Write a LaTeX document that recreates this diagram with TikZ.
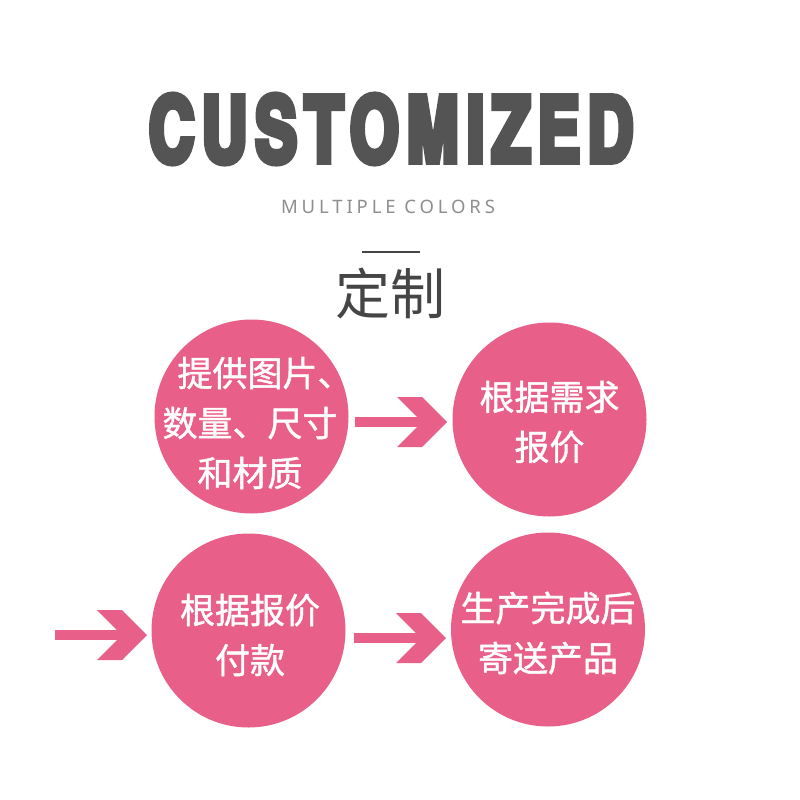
\documentclass[tikz,border=0pt]{standalone}
\usepackage{fontspec}
\newfontfamily\cjk[FakeBold=1.2]{Noto Sans CJK SC}
\newfontfamily\cjkhead{Noto Sans CJK SC}
\newfontfamily\titlefont[FakeBold=7,LetterSpace=10]{texgyreheroscn-bold.otf}
\newfontfamily\subfont[LetterSpace=21]{Noto Sans}
\definecolor{pinkc}{HTML}{E8608A}
\definecolor{titlegray}{HTML}{545454}
\definecolor{subgray}{HTML}{8E8E8E}
\definecolor{headgray}{HTML}{454545}
\tikzset{
  circ/.style={circle, fill=pinkc, minimum size=194pt, inner sep=0pt},
  lbl/.style={text=white, font=\cjk\fontsize{35}{50}\selectfont, align=center, inner sep=0pt},
  shaft/.style={draw=pinkc, line width=10pt},
  chev/.pic={\fill[pinkc] (-50,-25) -- (-25,-25) -- (0,0) -- (-25,25) -- (-50,25) -- (-25,0) -- cycle;}
}
\begin{document}
\begin{tikzpicture}[x=1pt,y=-1pt]
\useasboundingbox[fill=white] (0,0) rectangle (800,800);
\node[inner sep=0pt, text=titlegray] (title) at (391,129) {\resizebox{484pt}{67pt}{\titlefont CUSTOMIZED}};
\node[inner sep=0pt, text=subgray, font=\subfont\fontsize{18.5}{20}\selectfont] (sub) at (388,207) {MULTIPLE COLORS};
\coordinate (ruleL) at (362,252);
\coordinate (ruleR) at (420,252);
\draw[headgray, line width=2pt] (ruleL) -- (ruleR);
\node[inner sep=0pt, text=headgray, font=\cjkhead\fontsize{55}{60}\selectfont] (head) at (390,293) {定制};
% circles
\node[circ] (c1) at (251.5,416.5) {};
\node[circ] (c2) at (549.5,419.5) {};
\node[circ] (c3) at (248.5,630.5) {};
\node[circ] (c4) at (548,629.5) {};
% labels
\node[lbl] (l1) at (250,423) {\hspace*{30pt}提供图片、\\数量、尺寸\\和材质};
\node[lbl] (l2) at (549.5,422) {根据需求\\报价};
\node[lbl] (l3) at (250,635) {根据报价\\付款};
\node[lbl] (l4) at (548,633) {生产完成后\\寄送产品};
% arrows
\coordinate (t1) at (355,422);
\coordinate (h1) at (447,422);
\coordinate (t2) at (55,635);
\coordinate (h2) at (147,635);
\coordinate (t3) at (354,638);
\coordinate (h3) at (446,638);
\draw[shaft] (t1) -- ([xshift=-20pt]h1);
\pic at (h1) {chev};
\draw[shaft] (t2) -- ([xshift=-20pt]h2);
\pic at (h2) {chev};
\draw[shaft] (t3) -- ([xshift=-20pt]h3);
\pic at (h3) {chev};
\end{tikzpicture}
\end{document}
